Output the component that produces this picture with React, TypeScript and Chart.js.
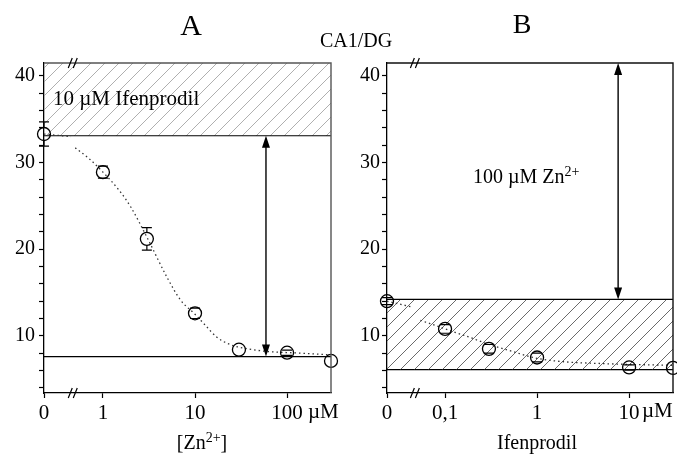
import React, { useEffect, useRef } from 'react';
import { Chart, registerables } from 'chart.js';

Chart.register(...registerables);

const FONT = '"Liberation Serif", "Times New Roman", Times, serif';
const W = 677;
const H = 462;

// ---------- shared y axis ----------
const yMin = 3.4;
const yMax = 41.5;
const yMinorTicks = [4, 6, 8, 10, 12, 14, 16, 18, 20, 22, 24, 26, 28, 30, 32, 34, 36, 38, 40];
const yMajorTicks = [10, 20, 30, 40];

// ---------- Panel A : [Zn2+] ----------
const zincConc = [0, 1, 3, 10, 30, 100, 300];
const zincResp = [33.3, 28.9, 21.2, 12.6, 8.4, 8.05, 7.1];
const zincErr = [1.4, 0.7, 1.3, 0.6, 0, 0.3, 0];
const zincFitLeftX = [0, 0.45];
const zincFitLeftY = [33.3, 33.0];
const zincFitX = [0.5, 0.7, 1, 1.5, 2, 3, 5, 7, 10, 13, 17, 24, 43, 60, 140, 300];
const zincFitY = [31.7, 30.5, 28.9, 26.8, 24.9, 21.4, 16.7, 14.1, 12.5, 11.2, 9.9, 9.0, 8.4, 8.2, 8.0, 7.8];
const zincXTicks = [0, 1, 10, 100];
const zincXLabels = ['0', '1', '10', '100'];
const zincAxisZero = 0.229;
const zincAxisMax = 300;
const zincBreak = 0.47;
const ifenLevelA = 33.1;
const zincLevelA = 7.6;
const zincArrowX = 59;

// ---------- Panel B : Ifenprodil ----------
const ifenConc = [0, 0.1, 0.3, 1, 10, 30];
const ifenResp = [14.0, 10.8, 8.5, 7.5, 6.35, 6.3];
const ifenErr = [0.4, 0.5, 0.5, 0.5, 0.3, 0];
const ifenFitLeftX = [0, 0.045];
const ifenFitLeftY = [14.0, 13.3];
const ifenFitX = [0.054, 0.1, 0.2, 0.3, 0.5, 1, 2, 5, 10, 30];
const ifenFitY = [11.8, 10.8, 9.7, 9.0, 8.3, 7.4, 7.0, 6.8, 6.7, 6.6];
const ifenXTicks = [0, 0.1, 1, 10];
const ifenXLabels = ['0', '0,1', '1', '10'];
const ifenAxisZero = 0.0234;
const ifenAxisMax = 30;
const ifenBreak = 0.047;
const zincLevelB = 14.2;
const ifenLevelB = 6.1;
const ifenArrowX = 7.6;

type PanelSpec = {
  padLeft: number; padRight: number; yWidth: number; yPad: number;
  zero: number; xMax: number; xTicks: number[]; xLabels: string[];
  conc: number[]; resp: number[]; err: number[];
  fitLX: number[]; fitLY: number[]; fitX: number[]; fitY: number[];
  upperLevel: number; upperFill: any; lowerLevel: number;
  arrowX: number; arrowFrom: number; arrowTo: number;
  breakX: number; hatchColor: string; hatchWidth: number; frameColor: string;
};

const R = 6.5;

function makePattern(color: string, lw: number, size: number) {
  const c = document.createElement('canvas');
  c.width = size;
  c.height = size;
  const g = c.getContext('2d')!;
  g.strokeStyle = color;
  g.lineWidth = lw;
  g.beginPath();
  g.moveTo(-1, size + 1); g.lineTo(size + 1, -1);
  g.moveTo(-2, 2); g.lineTo(2, -2);
  g.moveTo(size - 2, size + 2); g.lineTo(size + 2, size - 2);
  g.stroke();
  return g.createPattern(c, 'repeat');
}

function extrasPlugin(s: PanelSpec) {
  return {
    id: 'extras',
    afterDatasetsDraw(chart: any) {
      const { ctx, chartArea: a } = chart;
      const xs = chart.scales.x;
      const ys = chart.scales.y;
      const px = (v: number) => xs.getPixelForValue(v === 0 ? s.zero : v);
      const py = (v: number) => ys.getPixelForValue(v);
      ctx.save();
      // frame top & right
      ctx.strokeStyle = s.frameColor;
      ctx.lineWidth = 1.4;
      ctx.beginPath();
      ctx.moveTo(a.left, a.top);
      ctx.lineTo(a.right, a.top);
      ctx.lineTo(a.right, a.bottom);
      ctx.stroke();
      // error bars
      ctx.strokeStyle = '#000';
      ctx.lineWidth = 1.2;
      s.conc.forEach((c, i) => {
        const e = s.err[i];
        if (!e) return;
        const cx = px(c);
        const cy = py(s.resp[i]);
        const t = py(s.resp[i] + e);
        const b = py(s.resp[i] - e);
        ctx.beginPath();
        ctx.moveTo(cx - 5, t); ctx.lineTo(cx + 5, t);
        ctx.moveTo(cx - 5, b); ctx.lineTo(cx + 5, b);
        if (cy - t > R) {
          ctx.moveTo(cx, t); ctx.lineTo(cx, cy - R);
          ctx.moveTo(cx, cy + R); ctx.lineTo(cx, b);
        }
        ctx.stroke();
      });
      // double arrow
      const ax = px(s.arrowX);
      const y1 = py(s.arrowFrom);
      const y2 = py(s.arrowTo);
      ctx.lineWidth = 1.4;
      ctx.beginPath();
      ctx.moveTo(ax, y1 + 8);
      ctx.lineTo(ax, y2 - 8);
      ctx.stroke();
      ctx.fillStyle = '#000';
      ctx.beginPath();
      ctx.moveTo(ax, y1); ctx.lineTo(ax - 4, y1 + 12); ctx.lineTo(ax + 4, y1 + 12); ctx.closePath();
      ctx.moveTo(ax, y2); ctx.lineTo(ax - 4, y2 - 12); ctx.lineTo(ax + 4, y2 - 12); ctx.closePath();
      ctx.fill();
      // axis break marks
      const bx = px(s.breakX);
      ctx.lineWidth = 1.2;
      ctx.strokeStyle = '#000';
      ctx.beginPath();
      [a.top, a.bottom].forEach((yy: number) => {
        [-2.5, 2.5].forEach((k) => {
          ctx.moveTo(bx + k - 2, yy + 5);
          ctx.lineTo(bx + k + 2, yy - 5);
        });
      });
      ctx.stroke();
      ctx.restore();
    },
  };
}

function buildConfig(s: PanelSpec): any {
  const zx = (c: number) => (c === 0 ? s.zero : c);
  const pts = s.conc.map((c, i) => ({ x: zx(c), y: s.resp[i] }));
  const fitL = s.fitLX.map((c, i) => ({ x: zx(c), y: s.fitLY[i] }));
  const fitR = s.fitX.map((c, i) => ({ x: c, y: s.fitY[i] }));
  const upper = [{ x: s.zero, y: s.upperLevel }, { x: s.xMax, y: s.upperLevel }];
  const lower = [{ x: s.zero, y: s.lowerLevel }, { x: s.xMax, y: s.lowerLevel }];
  const dotted = {
    showLine: true, pointRadius: 0, borderColor: '#333', borderWidth: 1.3,
    borderDash: [1.5, 3], fill: false, clip: false,
  };
  const grid = { display: true, drawOnChartArea: false, drawTicks: true, tickLength: 5, color: '#000', tickWidth: 1.2 };
  const border = { display: true, color: '#000', width: 1.3 };
  return {
    type: 'line',
    data: {
      datasets: [
        {
          data: pts, showLine: false, pointRadius: R, pointBorderWidth: 1.3,
          pointBorderColor: '#000', pointBackgroundColor: 'rgba(0,0,0,0)', borderColor: '#000', clip: false,
        },
        { data: fitL, ...dotted },
        { data: fitR, ...dotted, cubicInterpolationMode: 'monotone' },
        {
          data: upper, showLine: true, pointRadius: 0, borderColor: '#000', borderWidth: 1.2,
          fill: s.upperFill, backgroundColor: makePattern(s.hatchColor, s.hatchWidth, 14),
        },
        { data: lower, showLine: true, pointRadius: 0, borderColor: '#000', borderWidth: 1.2, fill: false },
      ],
    },
    options: {
      responsive: false,
      animation: false,
      events: [],
      layout: { autoPadding: false, padding: { left: s.padLeft, right: s.padRight, top: 63, bottom: 39 } },
      plugins: { legend: { display: false }, tooltip: { enabled: false }, title: { display: false } },
      scales: {
        x: {
          type: 'logarithmic', min: s.zero, max: s.xMax,
          afterFit: (sc: any) => { sc.height = 30; sc.paddingLeft = 0; sc.paddingRight = 0; },
          afterBuildTicks: (sc: any) => { sc.ticks = s.xTicks.map((v) => ({ value: zx(v) })); },
          ticks: {
            autoSkip: false, maxRotation: 0, minRotation: 0, padding: 3, color: '#000',
            font: { family: FONT, size: 21 },
            callback: (_v: any, i: number) => s.xLabels[i],
          },
          grid, border,
        },
        y: {
          type: 'linear', min: yMin, max: yMax,
          afterFit: (sc: any) => { sc.width = s.yWidth; sc.paddingTop = 0; sc.paddingBottom = 0; },
          afterBuildTicks: (sc: any) => { sc.ticks = yMinorTicks.map((v) => ({ value: v })); },
          ticks: {
            autoSkip: false, padding: s.yPad, color: '#000',
            font: { family: FONT, size: 20 },
            callback: (v: any) => (yMajorTicks.includes(v) ? String(v) : ''),
          },
          grid, border,
        },
      },
    },
    plugins: [extrasPlugin(s)],
  };
}

const panelA: PanelSpec = {
  padLeft: 0, padRight: 346, yWidth: 44, yPad: 4,
  zero: zincAxisZero, xMax: zincAxisMax, xTicks: zincXTicks, xLabels: zincXLabels,
  conc: zincConc, resp: zincResp, err: zincErr,
  fitLX: zincFitLeftX, fitLY: zincFitLeftY, fitX: zincFitX, fitY: zincFitY,
  upperLevel: ifenLevelA, upperFill: 'end', lowerLevel: zincLevelA,
  arrowX: zincArrowX, arrowFrom: ifenLevelA, arrowTo: zincLevelA,
  breakX: zincBreak, hatchColor: '#9a9a9a', hatchWidth: 0.8, frameColor: '#555',
};

const panelB: PanelSpec = {
  padLeft: 340, padRight: 4, yWidth: 47, yPad: 2,
  zero: ifenAxisZero, xMax: ifenAxisMax, xTicks: ifenXTicks, xLabels: ifenXLabels,
  conc: ifenConc, resp: ifenResp, err: ifenErr,
  fitLX: ifenFitLeftX, fitLY: ifenFitLeftY, fitX: ifenFitX, fitY: ifenFitY,
  upperLevel: zincLevelB, upperFill: '+1', lowerLevel: ifenLevelB,
  arrowX: ifenArrowX, arrowFrom: yMax, arrowTo: zincLevelB,
  breakX: ifenBreak, hatchColor: '#444', hatchWidth: 0.8, frameColor: '#111',
};

function ChartLayer({ spec }: { spec: PanelSpec }) {
  const ref = useRef<HTMLCanvasElement>(null);
  useEffect(() => {
    const chart = new Chart(ref.current!, buildConfig(spec));
    return () => chart.destroy();
  }, []);
  return (
    <canvas
      ref={ref}
      width={W}
      height={H}
      style={{ position: 'absolute', left: 0, top: 0, width: W, height: H, display: 'block' }}
    />
  );
}

function Label(props: { x: number; baseline: number; size: number; center?: boolean; children: any }) {
  const { x, baseline, size, center, children } = props;
  return (
    <div
      style={{
        position: 'absolute', left: x, top: baseline - 0.8375 * size,
        fontFamily: FONT, fontSize: size, lineHeight: 1, whiteSpace: 'nowrap', color: '#000',
        transform: center ? 'translateX(-50%)' : undefined,
      }}
    >
      {children}
    </div>
  );
}

const sup = { fontSize: '0.7em', position: 'relative' as const, top: '-0.5em' };

export default function App() {
  return (
    <div style={{ position: 'absolute', left: 0, top: 0, width: W, height: H, background: '#fff', overflow: 'hidden' }}>
      <ChartLayer spec={panelA} />
      <ChartLayer spec={panelB} />
      <Label x={191} baseline={35} size={30} center>A</Label>
      <Label x={522} baseline={33} size={28} center>B</Label>
      <Label x={356} baseline={47} size={20} center>CA1/DG</Label>
      <Label x={53} baseline={106} size={21}>10 µM Ifenprodil</Label>
      <Label x={473} baseline={183} size={20}>100 µM Zn<span style={sup}>2+</span></Label>
      <Label x={308} baseline={419} size={21}>µM</Label>
      <Label x={642} baseline={418} size={21}>µM</Label>
      <Label x={202} baseline={449} size={20} center>[Zn<span style={sup}>2+</span>]</Label>
      <Label x={537} baseline={449} size={20} center>Ifenprodil</Label>
    </div>
  );
}
